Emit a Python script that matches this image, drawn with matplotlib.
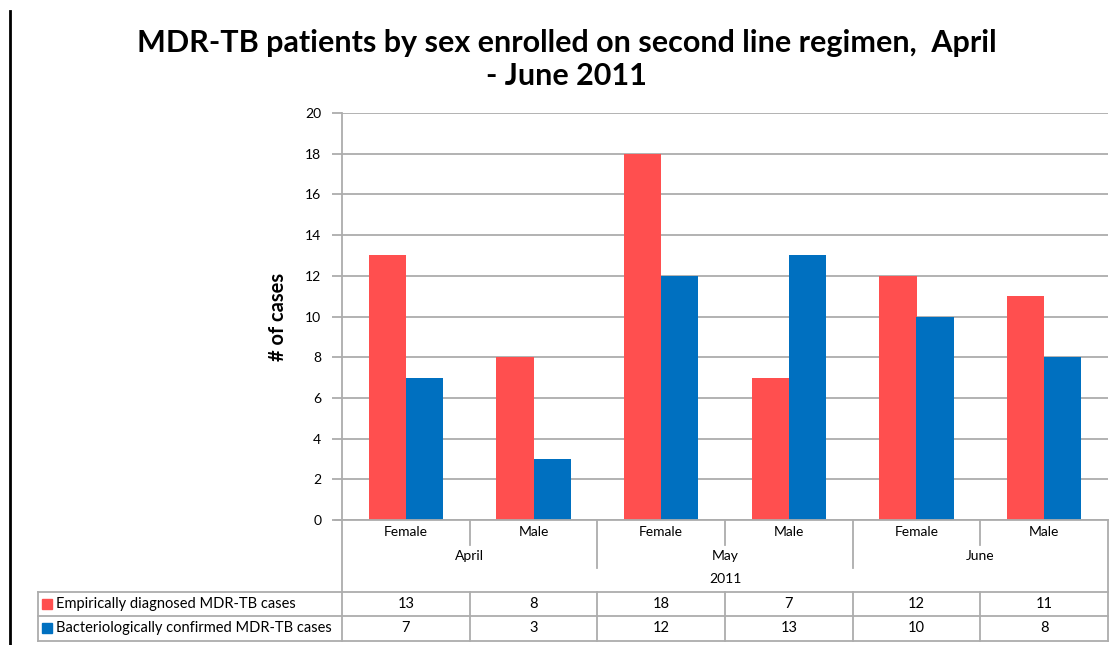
import numpy as np
import matplotlib.pyplot as plt
from matplotlib.lines import Line2D
from matplotlib.patches import Rectangle

plt.rcParams['font.family'] = ['Lato', 'DejaVu Sans']

# data
sexes = ['Female', 'Male', 'Female', 'Male', 'Female', 'Male']
months = ['April', 'May', 'June']
year = '2011'
series_names = ['Empirically diagnosed MDR-TB cases',
                'Bacteriologically confirmed MDR-TB cases']
empirical = [13, 8, 18, 7, 12, 11]
confirmed = [7, 3, 12, 13, 10, 8]
yticks = [0, 2, 4, 6, 8, 10, 12, 14, 16, 18, 20]

RED = '#FF4F4F'
BLUE = '#0070C0'
GRID = '#ADADAD'
W, H = 1116, 645

fig = plt.figure(figsize=(W / 100, H / 100), dpi=100)


def fx(px):
    return px / W


def fy(py):
    return 1 - py / H


# plot area in pixel terms
left, right, top, bottom = 342, 1108, 113, 520
ax = fig.add_axes([fx(left), fy(bottom), fx(right - left), fy(top) - fy(bottom)])
n = len(sexes)
x = np.arange(n)
bw = 0.29
ax.bar(x - bw / 2, empirical, bw, color=RED, zorder=3)
ax.bar(x + bw / 2, confirmed, bw, color=BLUE, zorder=3)
ax.set_xlim(-0.5, n - 0.5)
ax.set_ylim(0, 20)
ax.set_yticks(yticks)
ax.set_yticklabels([str(v) for v in yticks], fontsize=10)
ax.set_xticks([])
ax.yaxis.grid(True, color=GRID, linewidth=1.3, zorder=0)
for s in ['top', 'right', 'bottom']:
    ax.spines[s].set_visible(False)
ax.spines['left'].set_color(GRID)
ax.spines['left'].set_linewidth(1.3)
ax.tick_params(axis='y', length=7, width=1.3, color=GRID, pad=8)
ax.set_ylabel('# of cases', fontsize=14.5, fontweight='bold', labelpad=12)

fig.text(0.508, fy(43), 'MDR-TB patients by sex enrolled on second line regimen,  April',
         ha='center', va='center', fontsize=22, fontweight='bold')
fig.text(0.508, fy(76), '- June 2011', ha='center', va='center',
         fontsize=22, fontweight='bold')

# table / category area, x in data units, y in pixels
tx = fig.add_axes([fx(left), fy(645), fx(right - left), fy(bottom) - fy(645)])
tx.set_xlim(-0.5, n - 0.5)
tx.set_ylim(645, bottom)
tx.axis('off')
cw = (right - left) / n


def dx(px):
    return -0.5 + (px - left) / cw


lk = dict(color=GRID, linewidth=1.3, clip_on=False)
tx.plot([dx(335), n - 0.5], [bottom, bottom], **lk)
for yy in [592, 616, 641]:
    tx.plot([dx(38), n - 0.5], [yy, yy], **lk)
tx.plot([dx(38), dx(38)], [592, 641], **lk)
tx.plot([-0.5, -0.5], [bottom, 641], **lk)
tx.plot([n - 0.5, n - 0.5], [bottom, 641], **lk)
for i in range(1, n):
    b = i - 0.5
    tx.plot([b, b], [592, 641], **lk)
    tx.plot([b, b], [bottom, 568 if i % 2 == 0 else 545], **lk)

for i, s in enumerate(sexes):
    tx.text(i, 532, s, ha='center', va='center', fontsize=10)
for j, m in enumerate(months):
    tx.text(2 * j + 0.5, 556, m, ha='center', va='center', fontsize=10)
tx.text((n - 1) / 2, 579, year, ha='center', va='center', fontsize=10)

for row, (vals, name, col) in enumerate(zip([empirical, confirmed], series_names, [RED, BLUE])):
    yc = 604 + 24 * row
    for i, v in enumerate(vals):
        tx.text(i, yc, str(v), ha='center', va='center', fontsize=10.5)
    tx.add_patch(Rectangle((dx(42), yc + 5), 10 / cw, -10, color=col, clip_on=False))
    tx.text(dx(56), yc, name, ha='left', va='center', fontsize=10.5, clip_on=False)

# left page border
fig.add_artist(Line2D([fx(10), fx(10)], [fy(11), 0], color='black', linewidth=2))

fig.savefig('out.png', dpi=100)
